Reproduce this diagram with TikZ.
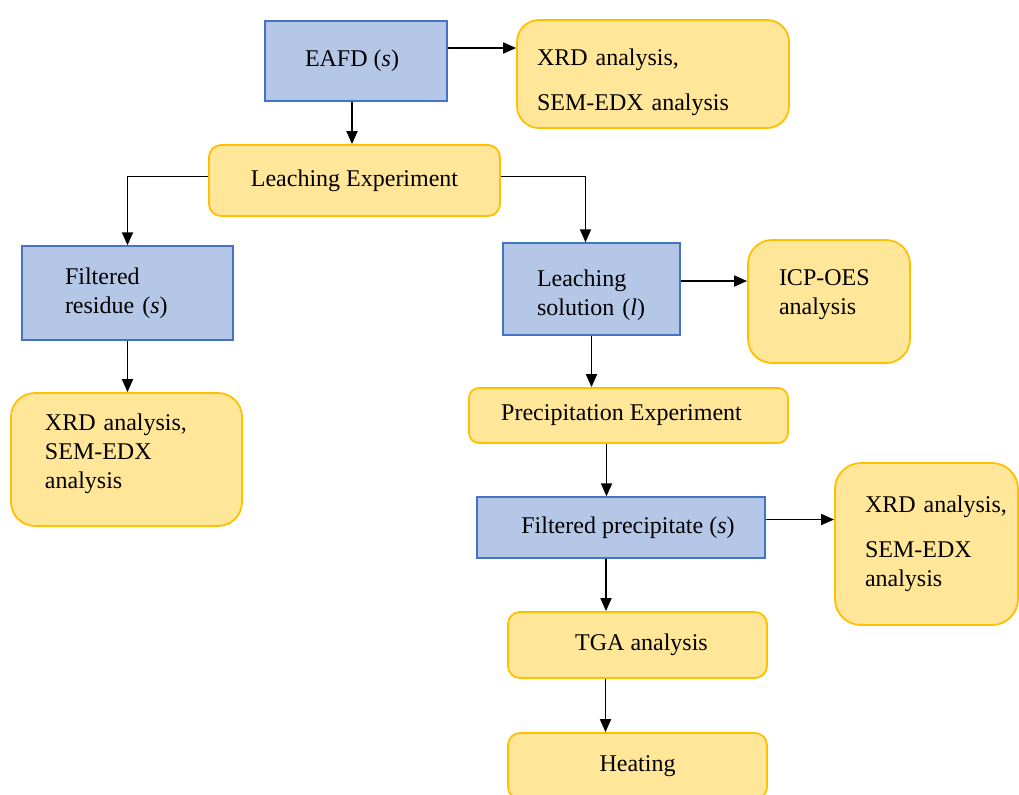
\documentclass[tikz,border=0pt]{standalone}
\usepackage{fontspec}
\setmainfont{Liberation Serif}
\usetikzlibrary{arrows.meta}
\definecolor{bluefill}{HTML}{B4C7E7}
\definecolor{blueline}{HTML}{4472C4}
\definecolor{yellowfill}{HTML}{FFE699}
\definecolor{yellowline}{HTML}{FFC000}
\tikzstyle{arrow} = [line width=0.9pt,-{Triangle[length=6.5pt,width=5.5pt]}]
\tikzstyle{sample} = [draw=blueline,fill=bluefill,line width=0.7pt,align=center]
\tikzstyle{process} = [draw=yellowline,fill=yellowfill,line width=0.9pt,rounded corners=6pt,align=center]
\tikzstyle{analysis} = [draw=yellowline,fill=yellowfill,line width=0.9pt,rounded corners=12pt,align=left]

\begin{document}
\begin{tikzpicture}[x=0.5pt,y=-0.5pt,font=\fontsize{12}{14.5}\selectfont]
		\clip (0,0) rectangle (1019,794);
		% samples
		\node[sample,minimum width=91pt,minimum height=40pt] (eafd) at (356,61) {EAFD (\textit{s})\hspace*{4pt}};
		\node[sample,minimum width=105.5pt,minimum height=47pt,align=left,inner xsep=21.5pt,text width=62.5pt] (resid) at (127.5,293) {Filtered\\residue (\textit{s})};
		\node[sample,minimum width=88.5pt,minimum height=46pt,align=left,inner xsep=17pt,text width=54.5pt] (lsol) at (591.5,289) {\rule{0pt}{14.2pt}Leaching\\\mbox{solution (\textit{l})}};
		\node[sample,minimum width=144pt,minimum height=30.5pt] (fprec) at (621,527.5) {\hspace*{7pt}Filtered precipitate (\textit{s})};
		% experiments
		\node[process,minimum width=145.5pt,minimum height=35.5pt] (leach) at (354.5,180.5) {Leaching Experiment};
		\node[process,minimum width=159.5pt,minimum height=27.5pt,rounded corners=5pt] (precip) at (628.5,415.5) {Precipitation Experiment\hspace*{7pt}};
		\node[process,minimum width=129.5pt,minimum height=33pt] (tga) at (637.5,645) {\hspace*{4pt}TGA analysis};
		\node[process,minimum width=129.5pt,minimum height=33pt] (heat) at (637.5,766) {Heating};
		% analyses
		\node[analysis,minimum width=136pt,minimum height=54pt,rounded corners=11pt,inner xsep=10pt,text width=116pt] (xrdA) at (653,74) {\rule{0pt}{16.2pt}XRD analysis,\\[8pt]SEM-EDX analysis};
		\node[analysis,minimum width=115.5pt,minimum height=66.5pt,inner xsep=17pt,text width=81.5pt] (xrdB) at (126.5,459.5) {XRD analysis,\\SEM-EDX\\analysis\rule[-8.6pt]{0pt}{0pt}};
		\node[analysis,minimum width=81pt,minimum height=61.5pt,inner xsep=15.5pt,text width=50pt] (icp) at (829,301.5) {ICP-OES\\analysis\rule[-9.6pt]{0pt}{0pt}};
		\node[analysis,minimum width=91.5pt,minimum height=81pt,rounded corners=13pt,inner xsep=15pt,text width=61.5pt] (xrdC) at (926.5,544) {\mbox{XRD analysis,}\\[8pt]SEM-EDX\\analysis};
		% connectors
		\draw [arrow] ([yshift=6.5pt]eafd.east) -- ([yshift=6.5pt]eafd.east -| xrdA.west);
		\draw [arrow] ([xshift=-2pt]eafd.south) -- ([xshift=-2pt]eafd.south |- leach.north);
		\draw [arrow] ([yshift=2pt]leach.west) -| (resid.north);
		\draw [arrow] ([yshift=2pt]leach.east) -| ([xshift=-3pt]lsol.north);
		\draw [arrow] (resid.south) -- (resid.south |- xrdB.north);
		\draw [arrow] ([yshift=4pt]lsol.east) -- ([yshift=4pt]lsol.east -| icp.west);
		\draw [arrow] (lsol.south) -- (lsol.south |- precip.north);
		\draw [arrow] ([xshift=-11pt]precip.south) -- ([xshift=-11pt]precip.south |- fprec.north);
		\draw [arrow] ([yshift=4pt]fprec.east) -- ([yshift=4pt]fprec.east -| xrdC.west);
		\draw [arrow] ([xshift=-7.5pt]fprec.south) -- ([xshift=-7.5pt]fprec.south |- tga.north);
		\draw [arrow] ([xshift=-16pt]tga.south) -- ([xshift=-16pt]tga.south |- heat.north);
	\end{tikzpicture}
\end{document}
